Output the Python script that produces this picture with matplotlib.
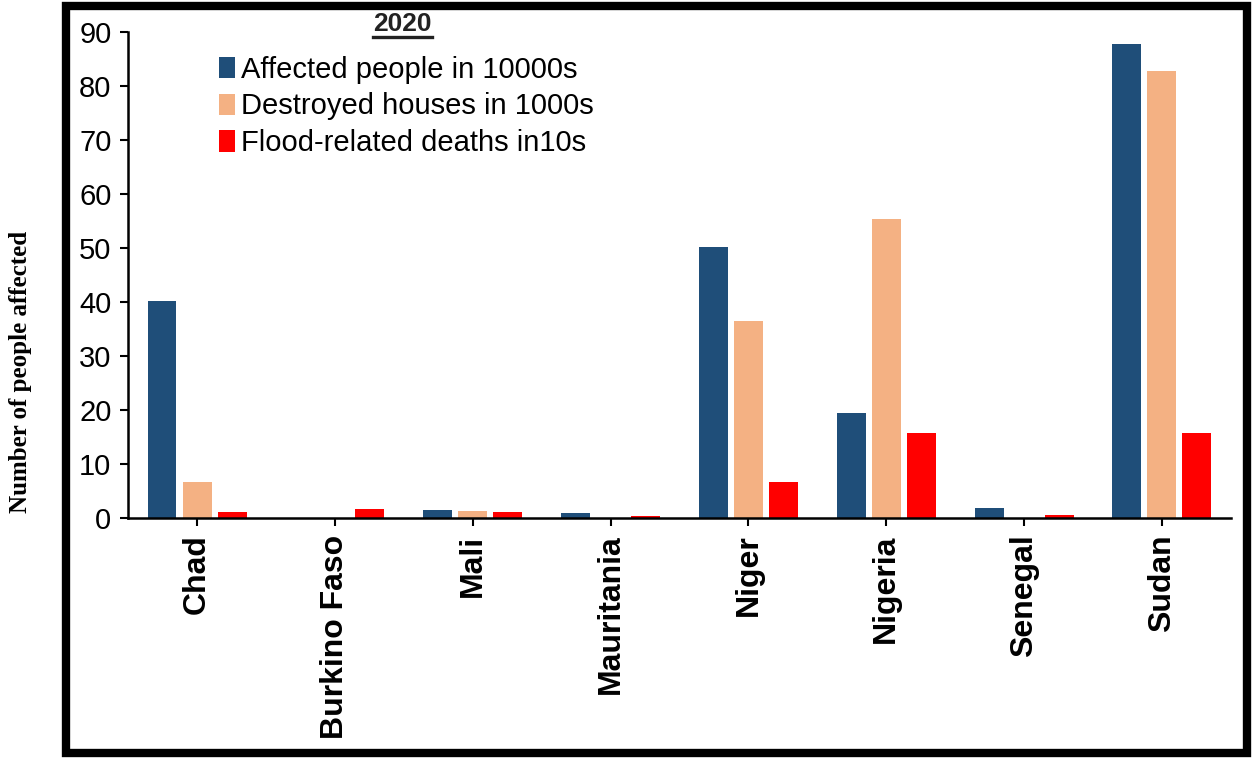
import numpy as np
import matplotlib
matplotlib.use("Agg")
import matplotlib.pyplot as plt
from matplotlib.patches import Rectangle
from matplotlib.lines import Line2D

# --- datos ---
paises = ["Chad", "Burkino Faso", "Mali", "Mauritania", "Niger", "Nigeria", "Senegal", "Sudan"]
afectados = [40.2, 0.0, 1.5, 1.0, 50.2, 19.5, 1.8, 87.8]      # personas en 10000s
casas = [6.7, 0.0, 1.3, 0.0, 36.5, 55.3, 0.0, 82.8]           # casas en 1000s
muertes = [1.2, 1.6, 1.1, 0.4, 6.7, 15.7, 0.6, 15.7]           # muertes en 10s
etiquetas = ["Affected people in 10000s", "Destroyed houses in 1000s", "Flood-related deaths in10s"]
colores = ["#1f4e79", "#f4b183", "#ff0000"]

plt.rcParams["font.family"] = ["Liberation Sans", "DejaVu Sans"]

fig = plt.figure(figsize=(12.56, 7.59), dpi=100)
ax = fig.add_axes([0.102, 0.3175, 0.878, 0.6405])

x = np.arange(len(paises))
paso = 0.254
ancho = 0.21
for i, (serie, color, nombre) in enumerate(zip([afectados, casas, muertes], colores, etiquetas)):
    ax.bar(x + (i - 1) * paso, serie, width=ancho, color=color, label=nombre, zorder=2)

ax.set_xlim(-0.5, len(paises) - 0.5)
ax.set_ylim(0, 90)
ax.set_yticks(range(0, 91, 10))
ax.set_xticks(x)
ax.set_xticklabels(paises, rotation=90, fontsize=23, fontweight="bold")
ax.tick_params(axis="y", labelsize=21, length=6, width=1.5, direction="out", pad=6)
ax.tick_params(axis="x", length=6, width=1.5, direction="out", pad=6)
for lado in ["top", "right"]:
    ax.spines[lado].set_visible(False)
for lado in ["left", "bottom"]:
    ax.spines[lado].set_linewidth(1.8)

ley = ax.legend(loc="upper left", bbox_to_anchor=(0.072, 0.975), frameon=False,
                fontsize=21, handlelength=0.55, handleheight=0.75, handletextpad=0.2,
                labelspacing=0.3, borderaxespad=0)

titulo = ax.text(0.249, 1.017, "2020", transform=ax.transAxes, ha="center", va="center",
                 fontsize=19, fontweight="bold", color="#222222")

# subrayado del titulo
fig.canvas.draw()
bb = titulo.get_window_extent().transformed(fig.transFigure.inverted())
fig.add_artist(Line2D([bb.x0, bb.x1], [bb.y0 - 0.002, bb.y0 - 0.002], color="#222222",
                      lw=2.4, transform=fig.transFigure))

fig.text(0.016, 0.51, "Number of people affected", rotation=90, ha="center", va="center",
         fontsize=18, fontweight="bold", family=["Liberation Serif", "DejaVu Serif"])

# marco negro alrededor del grafico
fig.add_artist(Rectangle((0.0525, 0.008), 0.94, 0.984, transform=fig.transFigure,
                         fill=False, edgecolor="black", lw=6))

fig.savefig("out.png", dpi=100)
